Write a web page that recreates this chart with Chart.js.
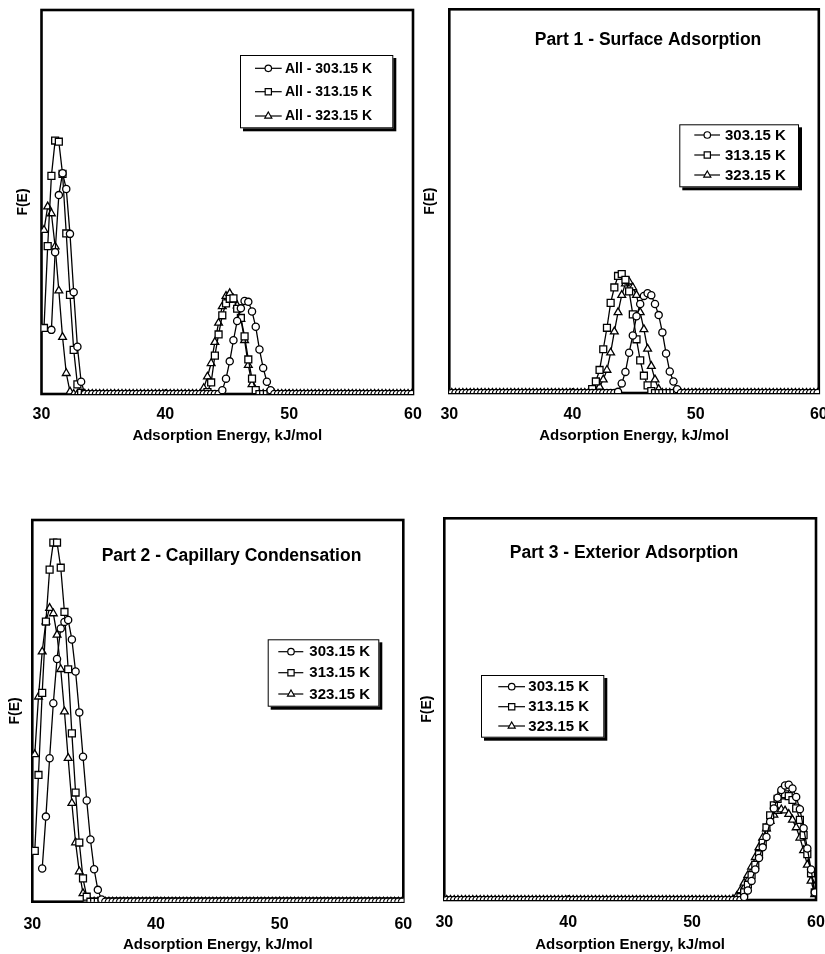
<!DOCTYPE html>
<html><head><meta charset="utf-8">
<script src="https://cdn.jsdelivr.net/npm/chart.js@4.4.1/dist/chart.umd.min.js"></script>
<style>
html,body{margin:0;padding:0;background:#fff;}
#wrap{position:relative;width:825px;height:954px;overflow:hidden;background:#fff;}
canvas{position:absolute;}
</style></head><body>
<div id="wrap">
<canvas id="c1" width="430" height="450" style="left:0px;top:0px"></canvas>
<canvas id="c2" width="413" height="450" style="left:412px;top:0px"></canvas>
<canvas id="c3" width="412" height="484" style="left:0px;top:470px"></canvas>
<canvas id="c4" width="413" height="484" style="left:412px;top:470px"></canvas>
</div>
<script>
// ---------- DATA ----------
const energies = [
 30.2,30.5,30.8,31.1,31.4,31.7,32.0,32.3,32.6,32.9,
 33.2,33.5,33.8,34.1,34.4,34.7,35.0,35.3,35.6,35.9,
 36.2,36.5,36.8,37.1,37.4,37.7,38.0,38.3,38.6,38.9,
 39.2,39.5,39.8,40.1,40.4,40.7,41.0,41.3,41.6,41.9,
 42.2,42.5,42.8,43.1,43.4,43.7,44.0,44.3,44.6,44.9,
 45.2,45.5,45.8,46.1,46.4,46.7,47.0,47.3,47.6,47.9,
 48.2,48.5,48.8,49.1,49.4,49.7,50.0,50.3,50.6,50.9,
 51.2,51.5,51.8,52.1,52.4,52.7,53.0,53.3,53.6,53.9,
 54.2,54.5,54.8,55.1,55.4,55.7,56.0,56.3,56.6,56.9,
 57.2,57.5,57.8,58.1,58.4,58.7,59.0,59.3,59.6,59.9];

const xTicks = [30, 40, 50, 60];
const allLabels = ['All - 303.15 K', 'All - 313.15 K', 'All - 323.15 K'];
const tempLabels = ['303.15 K', '313.15 K', '323.15 K'];
const panelTitles = ['', 'Part 1 - Surface Adsorption', 'Part 2 - Capillary Condensation', 'Part 3 - Exterior Adsorption'];
const xTitle = 'Adsorption Energy, kJ/mol';
const yTitle = 'F(E)';

// All
const all303 = [
 null,null,0.167,0.369,0.518,0.575,0.534,0.417,0.265,0.123,
 0.032,0,0,0,0,0,0,0,0,0,
 0,0,0,0,0,0,0,0,0,0,
 0,0,0,0,0,0,0,0,0,0,
 0,0,0,0,0,0,0,0,0.01,0.04,
 0.085,0.14,0.19,0.223,0.242,0.24,0.215,0.175,0.116,0.068,
 0.032,0.01,0,0,0,0,0,0,0,0,
 0,0,0,0,0,0,0,0,0,0,
 0,0,0,0,0,0,0,0,0,0,
 0,0,0,0,0,0,0,0,0,0];
const all313 = [
 0.172,0.385,0.568,0.66,0.657,0.573,0.418,0.258,0.115,0.025,
 0.003,0,0,0,0,0,0,0,0,0,
 0,0,0,0,0,0,0,0,0,0,
 0,0,0,0,0,0,0,0,0,0,
 0,0,0,0,0.005,0.03,0.1,0.155,0.205,0.236,
 0.248,0.249,0.222,0.198,0.15,0.09,0.04,0.01,0,0,
 0,0,0,0,0,0,0,0,0,0,
 0,0,0,0,0,0,0,0,0,0,
 0,0,0,0,0,0,0,0,0,0,
 0,0,0,0,0,0,0,0,0,0];
const all323 = [
 0.427,0.488,0.47,0.384,0.269,0.148,0.054,0.006,0,0,
 0,0,0,0,0,0,0,0,0,0,
 0,0,0,0,0,0,0,0,0,0,
 0,0,0,0,0,0,0,0,0,0,
 0,0,0,0.015,0.045,0.08,0.135,0.185,0.228,0.255,
 0.262,0.248,0.23,0.195,0.14,0.075,0.025,0.003,0,0,
 0,0,0,0,0,0,0,0,0,0,
 0,0,0,0,0,0,0,0,0,0,
 0,0,0,0,0,0,0,0,0,0,
 0,0,0,0,0,0,0,0,0,0];

// Part 1 - Surface Adsorption
const surf303 = [
 0,0,0,0,0,0,0,0,0,0,
 0,0,0,0,0,0,0,0,0,0,
 0,0,0,0,0,0,0,0,0,0,
 0,0,0,0,0,0,0,0,0,0,
 0,0,0,0,0,0.003,0.025,0.055,0.105,0.15,
 0.2,0.232,0.253,0.26,0.255,0.232,0.203,0.158,0.103,0.056,
 0.03,0.01,0,0,0,0,0,0,0,0,
 0,0,0,0,0,0,0,0,0,0,
 0,0,0,0,0,0,0,0,0,0,
 0,0,0,0,0,0,0,0,0,0];
const surf313 = [
 0,0,0,0,0,0,0,0,0,0,
 0,0,0,0,0,0,0,0,0,0,
 0,0,0,0,0,0,0,0,0,0,
 0,0,0,0,0,0,0,0,0.01,0.03,
 0.06,0.114,0.17,0.235,0.275,0.305,0.31,0.295,0.265,0.205,
 0.14,0.085,0.045,0.02,0.005,0,0,0,0,0,
 0,0,0,0,0,0,0,0,0,0,
 0,0,0,0,0,0,0,0,0,0,
 0,0,0,0,0,0,0,0,0,0,
 0,0,0,0,0,0,0,0,0,0];
const surf323 = [
 0,0,0,0,0,0,0,0,0,0,
 0,0,0,0,0,0,0,0,0,0,
 0,0,0,0,0,0,0,0,0,0,
 0,0,0,0,0,0,0,0,0,0.005,
 0.016,0.035,0.06,0.105,0.16,0.21,0.255,0.285,0.29,0.275,
 0.255,0.21,0.166,0.115,0.07,0.035,0.01,0,0,0,
 0,0,0,0,0,0,0,0,0,0,
 0,0,0,0,0,0,0,0,0,0,
 0,0,0,0,0,0,0,0,0,0,
 0,0,0,0,0,0,0,0,0,0];

// Part 2 - Capillary Condensation
const cap303 = [
 null,null,0.087,0.223,0.376,0.52,0.636,0.716,0.733,0.738,
 0.687,0.603,0.496,0.38,0.265,0.163,0.085,0.031,0.006,0,
 0,0,0,0,0,0,0,0,0,0,
 0,0,0,0,0,0,0,0,0,0,
 0,0,0,0,0,0,0,0,0,0,
 0,0,0,0,0,0,0,0,0,0,
 0,0,0,0,0,0,0,0,0,0,
 0,0,0,0,0,0,0,0,0,0,
 0,0,0,0,0,0,0,0,0,0,
 0,0,0,0,0,0,0,0,0,0];
const cap313 = [
 0.133,0.332,0.547,0.734,0.87,0.941,0.941,0.875,0.759,0.609,
 0.441,0.286,0.155,0.061,0.013,0,0,0,0,0,
 0,0,0,0,0,0,0,0,0,0,
 0,0,0,0,0,0,0,0,0,0,
 0,0,0,0,0,0,0,0,0,0,
 0,0,0,0,0,0,0,0,0,0,
 0,0,0,0,0,0,0,0,0,0,
 0,0,0,0,0,0,0,0,0,0,
 0,0,0,0,0,0,0,0,0,0,
 0,0,0,0,0,0,0,0,0,0];
const cap323 = [
 0.386,0.537,0.655,0.734,0.769,0.755,0.699,0.609,0.498,0.376,
 0.258,0.155,0.079,0.022,0.005,0,0,0,0,0,
 0,0,0,0,0,0,0,0,0,0,
 0,0,0,0,0,0,0,0,0,0,
 0,0,0,0,0,0,0,0,0,0,
 0,0,0,0,0,0,0,0,0,0,
 0,0,0,0,0,0,0,0,0,0,
 0,0,0,0,0,0,0,0,0,0,
 0,0,0,0,0,0,0,0,0,0,
 0,0,0,0,0,0,0,0,0,0];

// Part 3 - Exterior Adsorption
const ext303 = [
 0,0,0,0,0,0,0,0,0,0,
 0,0,0,0,0,0,0,0,0,0,
 0,0,0,0,0,0,0,0,0,0,
 0,0,0,0,0,0,0,0,0,0,
 0,0,0,0,0,0,0,0,0,0,
 0,0,0,0,0,0,0,0,0,0,
 0,0,0,0,0,0,0,0,0,0,
 0,0,0,0,0,0,0,0,0,0,
 0.008,0.025,0.05,0.08,0.11,0.138,0.165,0.205,0.24,0.268,
 0.288,0.3,0.302,0.292,0.27,0.238,0.188,0.135,0.08,0.02];
const ext313 = [
 0,0,0,0,0,0,0,0,0,0,
 0,0,0,0,0,0,0,0,0,0,
 0,0,0,0,0,0,0,0,0,0,
 0,0,0,0,0,0,0,0,0,0,
 0,0,0,0,0,0,0,0,0,0,
 0,0,0,0,0,0,0,0,0,0,
 0,0,0,0,0,0,0,0,0,0,
 0,0,0,0,0,0,0,0,0,0.008,
 0.02,0.04,0.065,0.092,0.12,0.15,0.19,0.222,0.248,0.265,
 0.274,0.277,0.272,0.262,0.24,0.21,0.17,0.12,0.07,0.02];
const ext323 = [
 0,0,0,0,0,0,0,0,0,0,
 0,0,0,0,0,0,0,0,0,0,
 0,0,0,0,0,0,0,0,0,0,
 0,0,0,0,0,0,0,0,0,0,
 0,0,0,0,0,0,0,0,0,0,
 0,0,0,0,0,0,0,0,0,0,
 0,0,0,0,0,0,0,0,0,0,
 0,0,0,0,0,0,0,0.002,0.01,0.025,
 0.045,0.065,0.087,0.112,0.138,0.163,0.187,0.207,0.223,0.233,
 0.237,0.234,0.225,0.21,0.19,0.163,0.13,0.092,0.05,0.015];

// ---------- LAYOUT / STYLE ----------
const FONT = "'Liberation Sans', Arial, Helvetica, sans-serif";
Chart.defaults.font.family = FONT;

const panels = [
 {id:'c1', w:430, h:450, area:{l:41.5, t:10, r:413, b:394}, tickPad:11.4, xtPad:5, ytPad:14.3,
  title:panelTitles[0], tpos:null, series:[all303, all313, all323], labels:allLabels,
  legend:{x:198.5, y:45, w:153.3, h:73.3, rows:[13.3,36.7,61], symL:15, symR:41.7, mk:28.3, tx:45, font:14}},
 {id:'c2', w:413, h:450, area:{l:37.3, t:9.3, r:407, b:393}, tickPad:12.4, xtPad:5, ytPad:9.6,
  title:panelTitles[1], tpos:{x:198.7, y:30.7}, series:[surf303, surf313, surf323], labels:tempLabels,
  legend:{x:230, y:115, w:119.7, h:63, rows:[10.7,30.7,50.7], symL:15, symR:40.7, mk:28, tx:45.7, font:15}},
 {id:'c3', w:412, h:484, area:{l:32.3, t:50, r:403.3, b:431.7}, tickPad:13.7, xtPad:0, ytPad:6.6,
  title:panelTitles[2], tpos:{x:199.2, y:36}, series:[cap303, cap313, cap323], labels:tempLabels,
  legend:{x:235.4, y:119.3, w:111.6, h:67.4, rows:[12.4,33.4,54.7], symL:10.6, symR:35.6, mk:23.3, tx:41.6, font:15}},
 {id:'c4', w:413, h:484, area:{l:32.3, t:48.3, r:404, b:430}, tickPad:13.4, xtPad:0, ytPad:6.3,
  title:panelTitles[3], tpos:{x:179.7, y:34.7}, series:[ext303, ext313, ext323], labels:tempLabels,
  legend:{x:36.7, y:156.7, w:123.3, h:62.7, rows:[11.7,31.7,51], symL:17.3, symR:44, mk:30.7, tx:47.3, font:15}}
];

const markerStyles = [
 {pointStyle:'circle', pointRadius:3.6},
 {pointStyle:'rect', pointRadius:4.9},
 {pointStyle:'triangle', pointRadius:4.5}
];

function drawMarker(ctx, style, r, x, y){
  ctx.beginPath();
  if (style === 'circle') { ctx.arc(x, y, r, 0, Math.PI*2); }
  else if (style === 'rect') { const s = r*Math.SQRT1_2; ctx.rect(x-s, y-s, 2*s, 2*s); }
  else { let a = 0; ctx.moveTo(x+Math.sin(a)*r, y-Math.cos(a)*r); a += 2*Math.PI/3;
    ctx.lineTo(x+Math.sin(a)*r, y-Math.cos(a)*r); a += 2*Math.PI/3;
    ctx.lineTo(x+Math.sin(a)*r, y-Math.cos(a)*r); ctx.closePath(); }
  ctx.fill(); ctx.stroke();
}

const decoPlugin = {
  id: 'panelDeco',
  beforeDatasetsDraw(chart, args, opts) {
    const {ctx, chartArea: a} = chart;
    ctx.save();
    ctx.strokeStyle = '#000';
    ctx.lineWidth = 2.6;
    ctx.strokeRect(a.left, a.top, a.right - a.left, a.bottom - a.top);
    const xs = chart.scales.x;
    ctx.lineWidth = 1.5;
    [40, 50].forEach(v => {
      const px = xs.getPixelForValue(v);
      ctx.beginPath(); ctx.moveTo(px, a.bottom); ctx.lineTo(px, a.bottom - 5); ctx.stroke();
    });
    ctx.restore();
  },
  afterDraw(chart, args, opts) {
    const {ctx, chartArea: a} = chart;
    ctx.save();
    if (opts.title && opts.tpos) {
      ctx.font = 'bold 17.5px ' + FONT;
      ctx.fillStyle = '#000';
      ctx.textAlign = 'center';
      ctx.textBaseline = 'middle';
      ctx.fillText(opts.title, a.left + opts.tpos.x, a.top + opts.tpos.y);
    }
    const L = opts.legend;
    const bx = a.left + L.x, by = a.top + L.y;
    ctx.fillStyle = '#000';
    ctx.fillRect(bx + 3, by + 3, L.w, L.h);
    ctx.fillStyle = '#fff';
    ctx.fillRect(bx, by, L.w, L.h);
    ctx.strokeStyle = '#000';
    ctx.lineWidth = 1;
    ctx.strokeRect(bx + 0.5, by + 0.5, L.w - 1, L.h - 1);
    chart.data.datasets.forEach((ds, i) => {
      const y = by + L.rows[i];
      ctx.strokeStyle = '#000'; ctx.lineWidth = 1.2;
      ctx.beginPath(); ctx.moveTo(bx + L.symL, y); ctx.lineTo(bx + L.symR, y); ctx.stroke();
      ctx.fillStyle = '#fff';
      drawMarker(ctx, ds.pointStyle, ds.pointRadius * 0.9, bx + L.mk, y);
      ctx.fillStyle = '#000';
      ctx.font = 'bold ' + L.font + 'px ' + FONT;
      ctx.textAlign = 'left';
      ctx.textBaseline = 'middle';
      ctx.fillText(ds.label, bx + L.tx, y + 0.5);
    });
    ctx.restore();
  }
};

function toPoints(values) {
  return energies.map((e, i) => ({x: e, y: values[i]}));
}

panels.forEach(P => {
  const datasets = P.series.map((vals, i) => ({
    label: P.labels[i],
    data: toPoints(vals),
    pointStyle: markerStyles[i].pointStyle,
    pointRadius: markerStyles[i].pointRadius,
    pointHoverRadius: markerStyles[i].pointRadius,
    pointBorderWidth: 1.3,
    pointBorderColor: '#000',
    pointBackgroundColor: '#fff',
    borderColor: '#000',
    borderWidth: 1.3,
    tension: 0,
    fill: false
  }));
  new Chart(document.getElementById(P.id), {
    type: 'line',
    data: {datasets},
    plugins: [decoPlugin],
    options: {
      responsive: false,
      animation: false,
      events: [],
      devicePixelRatio: 1,
      layout: {padding: {left: 0, top: P.area.t, right: P.w - P.area.r, bottom: 0}},
      plugins: {
        legend: {display: false},
        tooltip: {enabled: false},
        panelDeco: {title: P.title, tpos: P.tpos, legend: P.legend}
      },
      scales: {
        x: {
          type: 'linear', position: 'bottom', min: xTicks[0], max: xTicks[xTicks.length - 1],
          afterBuildTicks: s => { s.ticks = xTicks.map(v => ({value: v})); },
          ticks: {color: '#000', font: {family: FONT, size: 16, weight: 'bold'}, padding: P.tickPad, maxRotation: 0, autoSkip: false},
          grid: {display: false, drawTicks: false},
          border: {display: false},
          title: {display: true, text: xTitle, color: '#000', font: {family: FONT, size: 15, weight: 'bold'}, padding: {top: 0, bottom: P.xtPad}},
          afterFit: s => { s.height = P.h - P.area.b; s.paddingLeft = 0; s.paddingRight = 0; }
        },
        y: {
          type: 'linear', position: 'left', min: 0, max: 1,
          ticks: {display: false},
          grid: {display: false, drawTicks: false},
          border: {display: false},
          title: {display: true, text: yTitle, color: '#000', font: {family: FONT, size: 14, weight: 'bold'}, padding: {top: P.ytPad, bottom: 0}},
          afterFit: s => { s.width = P.area.l; s.paddingTop = 0; s.paddingBottom = 0; }
        }
      }
    }
  });
});
</script>
</body></html>
